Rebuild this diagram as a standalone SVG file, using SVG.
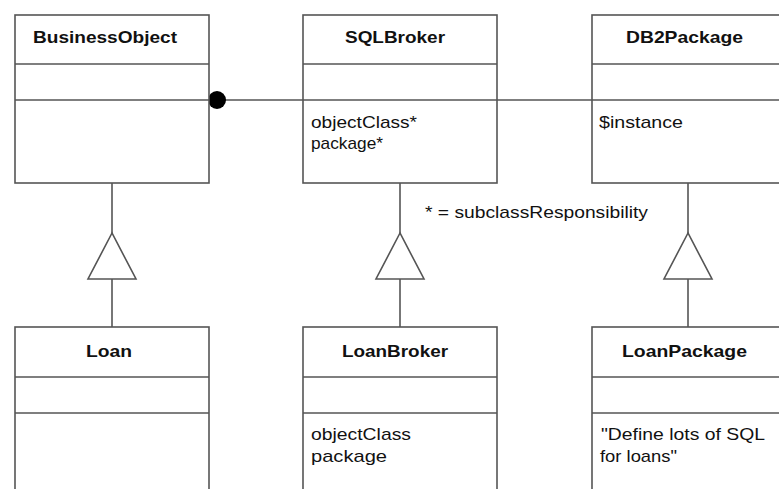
<svg xmlns="http://www.w3.org/2000/svg" width="779" height="489" viewBox="0 0 779 489">
<style>
.box{fill:#fff;stroke:#555;stroke-width:1.6}
.div{stroke:#555;stroke-width:1.6}
.conn{stroke:#555;stroke-width:1.6;fill:none}
.tri{fill:#fff;stroke:#555;stroke-width:1.6}
.t{font-family:"Liberation Sans",Arial,sans-serif;font-size:17px;fill:#111}
.b{font-weight:bold}
</style>
<rect width="779" height="489" fill="#fff"/>
<g id="connectors">
<line class="conn" x1="208" y1="100" x2="779" y2="100"/>
<circle cx="217" cy="100" r="9" fill="#000"/>
<line class="conn" x1="112" y1="183" x2="112" y2="327"/>
<polygon class="tri" points="112,233 88,279 136,279"/>
<line class="conn" x1="400" y1="183" x2="400" y2="327"/>
<polygon class="tri" points="400,233 376,279 424,279"/>
<line class="conn" x1="688" y1="183" x2="688" y2="327"/>
<polygon class="tri" points="688,233 664,279 712,279"/>
<text class="t" x="425" y="218" textLength="223" lengthAdjust="spacingAndGlyphs">* = subclassResponsibility</text>
</g>
<g id="BusinessObject">
<rect class="box" x="15" y="15" width="194" height="168"/>
<line class="div" x1="15" y1="64" x2="209" y2="64"/>
<line class="div" x1="15" y1="100" x2="209" y2="100"/>
<text class="t b" x="33" y="43" textLength="144" lengthAdjust="spacingAndGlyphs">BusinessObject</text>
</g>
<g id="SQLBroker">
<rect class="box" x="303" y="15" width="194" height="168"/>
<line class="div" x1="303" y1="64" x2="497" y2="64"/>
<line class="div" x1="303" y1="100" x2="497" y2="100"/>
<text class="t b" x="345" y="43" textLength="100" lengthAdjust="spacingAndGlyphs">SQLBroker</text>
<text class="t" x="311" y="128" textLength="106" lengthAdjust="spacingAndGlyphs">objectClass*</text>
<text class="t" x="311" y="149" textLength="72" lengthAdjust="spacingAndGlyphs">package*</text>
</g>
<g id="DB2Package">
<rect class="box" x="592" y="15" width="200" height="168"/>
<line class="div" x1="592" y1="64" x2="779" y2="64"/>
<line class="div" x1="592" y1="100" x2="779" y2="100"/>
<text class="t b" x="626" y="43" textLength="117" lengthAdjust="spacingAndGlyphs">DB2Package</text>
<text class="t" x="599" y="128" textLength="84" lengthAdjust="spacingAndGlyphs">$instance</text>
</g>
<g id="Loan">
<rect class="box" x="15" y="327" width="194" height="180"/>
<line class="div" x1="15" y1="377" x2="209" y2="377"/>
<line class="div" x1="15" y1="413" x2="209" y2="413"/>
<text class="t b" x="86" y="357" textLength="46" lengthAdjust="spacingAndGlyphs">Loan</text>
</g>
<g id="LoanBroker">
<rect class="box" x="303" y="327" width="194" height="180"/>
<line class="div" x1="303" y1="377" x2="497" y2="377"/>
<line class="div" x1="303" y1="413" x2="497" y2="413"/>
<text class="t b" x="342" y="357" textLength="106" lengthAdjust="spacingAndGlyphs">LoanBroker</text>
<text class="t" x="311" y="440" textLength="100" lengthAdjust="spacingAndGlyphs">objectClass</text>
<text class="t" x="311" y="462" textLength="76" lengthAdjust="spacingAndGlyphs">package</text>
</g>
<g id="LoanPackage">
<rect class="box" x="592" y="327" width="200" height="180"/>
<line class="div" x1="592" y1="377" x2="779" y2="377"/>
<line class="div" x1="592" y1="413" x2="779" y2="413"/>
<text class="t b" x="622" y="357" textLength="125" lengthAdjust="spacingAndGlyphs">LoanPackage</text>
<text class="t" x="601" y="440" textLength="164" lengthAdjust="spacingAndGlyphs">"Define lots of SQL</text>
<text class="t" x="600" y="462" textLength="77" lengthAdjust="spacingAndGlyphs">for loans"</text>
</g>
</svg>
